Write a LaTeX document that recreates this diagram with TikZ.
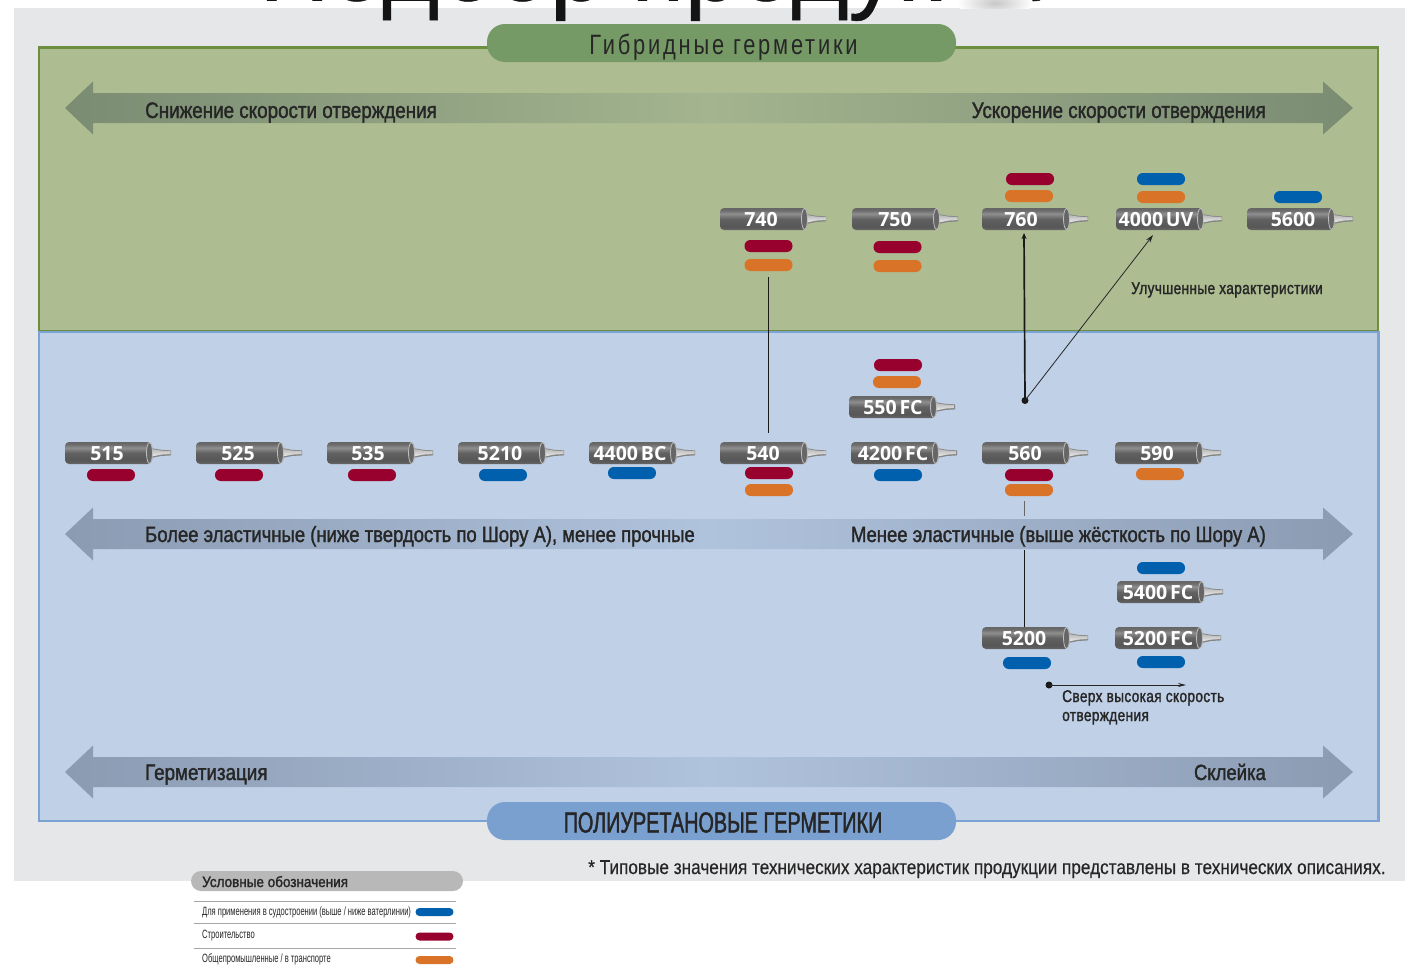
\documentclass[tikz,border=0pt]{standalone}
\usepackage{fontspec}
\usetikzlibrary{arrows.meta,calc}
\setmainfont{Liberation Sans}
\newfontfamily\ftitle[FakeBold=0.6]{Liberation Sans}
\newfontfamily\fband[FakeStretch=0.84,FakeBold=1.5]{Liberation Sans}
\newfontfamily\fhead[FakeStretch=0.78,LetterSpace=10]{Liberation Sans}
\newfontfamily\fpoly[FakeStretch=0.684,FakeBold=1.5]{Liberation Sans}
\newfontfamily\fnote[FakeStretch=0.86,FakeBold=0.4]{Liberation Sans}
\newfontfamily\fnarrow[FakeStretch=0.805,FakeBold=1.5,LetterSpace=2]{Liberation Sans}
\newfontfamily\flegh[FakeStretch=0.90,FakeBold=1.5]{Liberation Sans}
\newfontfamily\flegi[FakeStretch=0.63]{Liberation Sans}
\newfontfamily\fcart[WordSpace=0.55]{Open Sans}
\definecolor{pagegray}{HTML}{E6E7E9}
\definecolor{greenfill}{HTML}{ADBC91}
\definecolor{greenline}{HTML}{6B8F3F}
\definecolor{greenpill}{HTML}{769A66}
\definecolor{bluefill}{HTML}{C0D0E7}
\definecolor{blueline}{HTML}{7BA4D4}
\definecolor{bluepill}{HTML}{7AA0CF}
\definecolor{barred}{HTML}{98002E}
\definecolor{barorange}{HTML}{D97327}
\definecolor{barblue}{HTML}{0060AE}
\definecolor{inkdark}{HTML}{262626}
\definecolor{gA}{HTML}{7A8C72}
\definecolor{gB}{HTML}{A3B48F}
\definecolor{bA}{HTML}{8A9BB2}
\definecolor{bB}{HTML}{B0C3DD}
\pgfdeclareverticalshading{cartsh}{100bp}{
 color(0bp)=(black!58); color(25bp)=(black!60); color(33bp)=(black!66); color(50bp)=(black!62);
 color(62bp)=(black!44); color(70bp)=(black!58); color(75bp)=(black!60); color(100bp)=(black!60)}
\tikzset{
 x=1pt,y=-1pt,
 cartbody/.style={shading=cartsh,rounded corners=4pt,minimum width=87pt,minimum height=22pt,inner sep=0pt},
 cartlabel/.style={text=white,inner sep=0pt,anchor=base,font=\fcart\bfseries\fontsize{19.5}{22}\selectfont},
 barbase/.style={rounded corners=5.8pt,minimum width=48pt,minimum height=12pt,inner sep=0pt},
 barR/.style={barbase,fill=barred},
 barO/.style={barbase,fill=barorange},
 barB/.style={barbase,fill=barblue},
 legbar/.style={rounded corners=4pt,minimum width=38pt,minimum height=8pt,inner sep=0pt},
 bandtext/.style={text=inkdark,inner sep=0pt,font=\fband\fontsize{22}{26}\selectfont},
 bandtextwide/.style={text=inkdark,inner sep=0pt,font=\fband\fontsize{22.4}{26}\selectfont},
 smalltext/.style={text=inkdark,inner sep=0pt,align=left,font=\fnarrow\fontsize{17}{19.5}\selectfont},
 conn/.style={line width=1.7pt,draw=black!90},
 thinconn/.style={line width=.8pt,draw=black!85},
 pointdot/.style={circle,fill=black!90,minimum size=7pt,inner sep=0pt},
 pill/.style={rounded corners=18pt,minimum width=469pt,minimum height=38pt,inner sep=0pt},
 legline/.style={line width=.9pt,draw=black!35},
 legtext/.style={text=inkdark,anchor=base west,inner sep=0pt,font=\flegi\fontsize{12}{14}\selectfont},
}
\newcommand{\cart}[4]{% name, left x, y, label centre x
 \node[cartbody] (#1) at (#2+43.5,#3) {};
 \fill[black!48] (#2+86,#3-5) -- (#2+96,#3-3.2) -- (#2+106,#3-2.6) -- (#2+106,#3+2.4) -- (#2+96,#3+3) -- (#2+86,#3+5) -- cycle;
 \shade[top color=white!72!black,bottom color=white!92!black] (#2+87,#3-4) -- (#2+96,#3-2.4) -- (#2+105.5,#3-1.8) -- (#2+105.5,#3+1) -- (#2+96,#3+1.6) -- (#2+87,#3+3.4) -- cycle;
 \draw[draw=black!25,fill=black!60,line width=.8pt] (#2+84.5,#3) ellipse [x radius=3pt,y radius=10.5pt];
 \node[cartlabel] (#1l) at (#4,#3+7.5) {#1};
}
\newcommand{\band}[3]{% centre y, end colour, middle colour
 \shade[left color=#2,right color=#2,middle color=#3]
  (65,#1) -- (93,#1-26.5) -- (93,#1-15) -- (1323,#1-15) -- (1323,#1-26.5) -- (1353,#1) -- (1323,#1+26.5) -- (1323,#1+15) -- (93,#1+15) -- (93,#1+26.5) -- cycle;
}
\begin{document}
\begin{tikzpicture}
\useasboundingbox (0,0) rectangle (1405,967);
\fill[white] (0,0) rectangle (1405,967);
\fill[pagegray] (14,8) rectangle (1405,881);
\node[anchor=base west,inner sep=0pt,text=black!92,font=\ftitle\fontsize{98}{100}\selectfont] (title) at (259,0.5) {Подбор продукта};
\begin{scope}
\clip (930,0) rectangle (1050,8);
\shade[inner color=black!22,outer color=white] (995,3) ellipse [x radius=38pt,y radius=14pt];
\end{scope}
% panels
\draw[fill=greenfill,draw=greenline,line width=2.4pt] (39,47.5) rectangle (1378,331);
\draw[fill=bluefill,draw=blueline,line width=2.2pt] (39,332) rectangle (1378.5,821);
\node[pill,fill=greenpill] (hyb) at (721.5,43) {};
\node[anchor=base,text=inkdark,inner sep=0pt,font=\fhead\fontsize{28}{32}\selectfont] (hybt) at (723.5,54.5) {Гибридные герметики};
\node[pill,fill=bluepill] (pu) at (721.5,821) {};
\node[anchor=base,text=inkdark,inner sep=0pt,font=\fpoly\fontsize{29}{32}\selectfont] (put) at (723,832.5) {ПОЛИУРЕТАНОВЫЕ ГЕРМЕТИКИ};
% bands
\band{108}{gA}{gB}
\band{534}{bA}{bB}
\band{772}{bA}{bB}
\node[bandtextwide,anchor=base west] (s1) at (145,118) {Снижение скорости отверждения};
\node[bandtextwide,anchor=base east] (s2) at (1266,118) {Ускорение скорости отверждения};
\node[bandtext,anchor=base west] (m1) at (145,542) {Более эластичные (ниже твердость по Шору А), менее прочные};
\node[bandtext,anchor=base east] (m2) at (1266,542) {Менее эластичные (выше жёсткость по Шору А)};
\node[bandtextwide,anchor=base west] (b1) at (145,780) {Герметизация};
\node[bandtext,anchor=base east] (b2) at (1266,780) {Склейка};
% upper row
\cart{740}{720}{219}{761}
\cart{750}{852}{219}{895}
\cart{760}{982}{219}{1021}
\cart{4000 UV}{1116}{219}{1156}
\cart{5600}{1247}{219}{1293}
\node[barR] (b740r) at (768.5,246) {}; \node[barO] (b740o) at (768.5,265) {};
\node[barR] (b750r) at (897.5,247) {}; \node[barO] (b750o) at (897.5,266) {};
\node[barR] (b760r) at (1030,179) {}; \node[barO] (b760o) at (1029,196) {};
\node[barB] (b4000b) at (1161,179) {}; \node[barO] (b4000o) at (1161,197) {};
\node[barB] (b5600b) at (1298,197) {};
% middle row
\cart{515}{65}{453}{107}
\cart{525}{196}{453}{238}
\cart{535}{327}{453}{368}
\cart{5210}{458}{453}{500}
\cart{4400 BC}{589}{453}{630}
\cart{540}{720}{453}{763}
\cart{4200 FC}{851}{453}{893}
\cart{560}{982}{453}{1025}
\cart{590}{1115}{453}{1157}
\cart{550 FC}{849}{407}{893}
\node[barR] (b515) at (111,475) {};
\node[barR] (b525) at (239,475) {};
\node[barR] (b535) at (372,475) {};
\node[barB] (b5210) at (503,475) {};
\node[barB] (b4400) at (632,473) {};
\node[barR] (b540r) at (769,473) {}; \node[barO] (b540o) at (769,490) {};
\node[barB] (b4200) at (898,475) {};
\node[barR] (b560r) at (1029,475) {}; \node[barO] (b560o) at (1029,490) {};
\node[barO] (b590) at (1160,474) {};
\node[barR] (b550r) at (898,365) {}; \node[barO] (b550o) at (897,382) {};
% lower group
\cart{5400 FC}{1117}{592}{1158}
\cart{5200}{982}{638}{1024}
\cart{5200 FC}{1115}{638}{1158}
\node[barB] (b5400) at (1161,568) {};
\node[barB] (b5200) at (1027,663) {};
\node[barB] (b5200f) at (1161,662) {};
% connectors
\draw[conn,shorten <=6pt,shorten >=9pt] (b740o.south) -- (b740o.south |- 540.north);
\node[pointdot] (d1) at (1025,400.5) {};
\coordinate (t760) at (1024,233);
\coordinate (t4000) at (1153,235);
\draw[conn,-{Stealth[length=6pt,width=5pt]}] (d1.center) -- (t760);
\draw[thinconn,-{Stealth[length=8pt,width=5pt]}] (d1.center) -- (t4000);
\coordinate (l1) at (1024.5,550);
\coordinate (l2) at (1024.5,501);
\coordinate (l3) at (1024.5,516);
\draw[conn] (5200.north -| l1) -- (l1);
\draw[thinconn,draw=black!60] (l2) -- (l3);
\node[pointdot,minimum size=7pt] (d2) at (1049,685) {};
\coordinate (t2) at (1186,685);
\draw[thinconn,-{Stealth[length=8pt,width=4pt]}] (d2.center) -- (t2);
\node[smalltext,anchor=base west] (u1) at (1131,294) {Улучшенные характеристики};
\node[smalltext,anchor=base west] (u2) at (1062,702) {Сверх высокая скорость};
\node[smalltext,anchor=base west] (u3) at (1062,721) {отверждения};
\node[anchor=base west,inner sep=0pt,text=inkdark,font=\fnote\fontsize{20}{24}\selectfont] (fn) at (588,874) {* Типовые значения технических характеристик продукции представлены в технических описаниях.};
% legend
\node[rounded corners=10pt,fill=black!28,minimum width=272pt,minimum height=20pt,inner sep=0pt] (lh) at (327,881) {};
\node[anchor=base west,inner sep=0pt,text=inkdark,font=\flegh\fontsize{15}{18}\selectfont] (lht) at (202,887) {Условные обозначения};
\coordinate (ll1) at (194,901); \coordinate (lr1) at (456,901);
\coordinate (ll2) at (194,923); \coordinate (lr2) at (456,923);
\coordinate (ll3) at (194,948); \coordinate (lr3) at (456,948);
\draw[legline] (ll1) -- (lr1);
\draw[legline] (ll2) -- (lr2);
\draw[legline] (ll3) -- (lr3);
\node[legtext] (lt1) at (202,915) {Для применения в судостроении (выше / ниже ватерлинии)};
\node[legtext] (lt2) at (202,938) {Строительство};
\node[legtext] (lt3) at (202,962) {Общепромышленные / в транспорте};
\node[legbar,fill=barblue] (lb1) at (434.5,912) {};
\node[legbar,fill=barred] (lb2) at (434.5,936.5) {};
\node[legbar,fill=barorange] (lb3) at (434.5,960) {};
\end{tikzpicture}
\end{document}
